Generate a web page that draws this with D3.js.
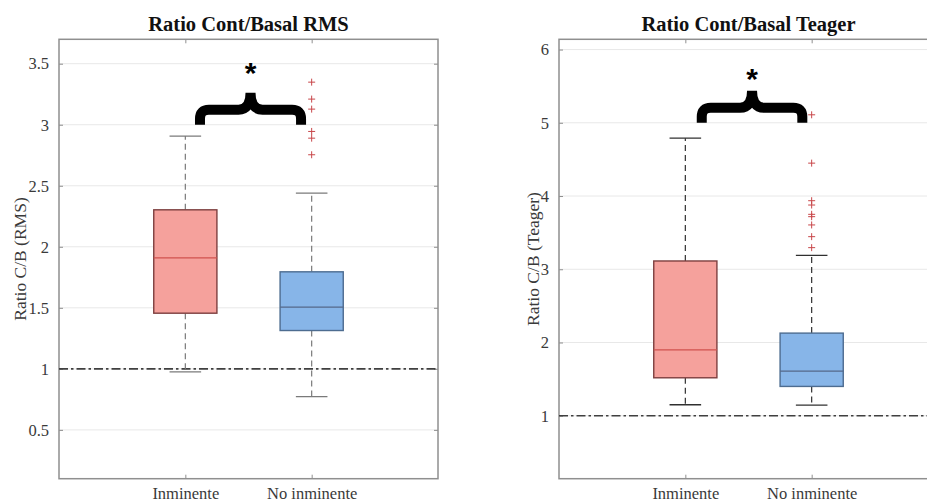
<!DOCTYPE html>
<html><head><meta charset="utf-8">
<script src="https://cdn.jsdelivr.net/npm/d3@7"></script>
<style>
html,body{margin:0;padding:0;background:#fff;}
svg{display:block;}
</style></head>
<body>
<script>
// ---------- DATA ----------
const categories = ["Inminente", "No inminente"];
// [lower whisker, Q1, median, Q3, upper whisker]
const rmsStats = [[0.975, 1.456, 1.91, 2.303, 2.907], [0.773, 1.314, 1.505, 1.795, 2.44]];
const rmsOutliers = [[], [3.349, 3.21, 3.128, 2.945, 2.89, 2.754]];
const rmsTicks = [0.5, 1, 1.5, 2, 2.5, 3, 3.5];
const rmsTickLabels = ["0.5", "1", "1.5", "2", "2.5", "3", "3.5"];
const teagerStats = [[1.15, 1.518, 1.90, 3.113, 4.79], [1.145, 1.40, 1.61, 2.128, 3.19]];
const teagerOutliers = [[], [5.109, 4.449, 3.936, 3.877, 3.75, 3.718, 3.605, 3.445, 3.295]];
const teagerTicks = [1, 2, 3, 4, 5, 6];
const teagerTickLabels = ["1", "2", "3", "4", "5", "6"];
const refValue = 1;
// significance bracket: [x start, x end, base y, star y]
const rmsBracket = [1.116, 1.916, 3.0, 3.443];
const teagerBracket = [1.13, 1.926, 5.0, 5.634];

// ---------- LAYOUT / STYLE ----------
const W = 927, H = 502;
const svg = d3.select("body").append("svg").attr("width", W).attr("height", H);
const boxFill = ["#f5a19c", "#87b5e8"];
const boxEdge = ["#7d3f3f", "#4d6c90"];
const medColor = ["#d0524e", "#55698a"];

const panels = [
  {title: "Ratio Cont/Basal RMS", ylabel: "Ratio C/B (RMS)", stats: rmsStats, outliers: rmsOutliers,
   ticks: rmsTicks, tickLabels: rmsTickLabels, ydom: [0.1, 3.7], xr: [59, 438], bracket: rmsBracket,
   whiskerColor: "#7a7a7a", ylabX: 26},
  {title: "Ratio Cont/Basal Teager", ylabel: "Ratio C/B (Teager)", stats: teagerStats, outliers: teagerOutliers,
   ticks: teagerTicks, tickLabels: teagerTickLabels, ydom: [0.14, 6.14], xr: [559, 938], bracket: teagerBracket,
   whiskerColor: "#303030", ylabX: 539}
];
const yTop = 39.3, yBottom = 478.7;

panels.forEach(p => {
  const x = d3.scaleLinear().domain([0, 3]).range(p.xr);
  const y = d3.scaleLinear().domain(p.ydom).range([yBottom, yTop]);
  const g = svg.append("g");
  const x0 = p.xr[0], x1 = p.xr[1];

  // grid
  g.selectAll(".grid").data(p.ticks).join("line")
    .attr("x1", x0).attr("x2", x1).attr("y1", d => y(d)).attr("y2", d => y(d))
    .attr("stroke", "#e8e8e8").attr("stroke-width", 1);

  // axis frame
  g.append("rect").attr("x", x0).attr("y", yTop).attr("width", x1 - x0).attr("height", yBottom - yTop)
    .attr("fill", "none").attr("stroke", "#8f8f8f").attr("stroke-width", 1.5);

  // y axis (left) with inward ticks
  const yAxis = d3.axisLeft(y).tickValues(p.ticks).tickFormat((d, i) => p.tickLabels[i]).tickSize(-4).tickPadding(10);
  const ya = g.append("g").attr("transform", `translate(${x0},0)`).call(yAxis);
  ya.select(".domain").remove();
  ya.selectAll(".tick line").attr("stroke", "#8f8f8f");
  ya.selectAll(".tick text").attr("font-family", "'Liberation Serif', 'Times New Roman', serif")
    .attr("font-size", 16.5).attr("fill", "#3a3a3a");
  // right side ticks
  const yr = g.append("g").attr("transform", `translate(${x1},0)`).call(d3.axisRight(y).tickValues(p.ticks).tickSize(-4).tickFormat(""));
  yr.select(".domain").remove();
  yr.selectAll(".tick line").attr("stroke", "#8f8f8f");

  // x axis
  const xAxis = d3.axisBottom(x).tickValues([1, 2]).tickFormat((d, i) => categories[i]).tickSize(-4).tickPadding(9);
  const xa = g.append("g").attr("transform", `translate(0,${yBottom})`).call(xAxis);
  xa.select(".domain").remove();
  xa.selectAll(".tick line").attr("stroke", "#8f8f8f");
  xa.selectAll(".tick text").attr("font-family", "'Liberation Serif', 'Times New Roman', serif")
    .attr("font-size", 16.5).attr("fill", "#3a3a3a");
  const xt = g.append("g").attr("transform", `translate(0,${yTop})`).call(d3.axisTop(x).tickValues([1, 2]).tickSize(-4).tickFormat(""));
  xt.select(".domain").remove();
  xt.selectAll(".tick line").attr("stroke", "#8f8f8f");

  // reference line
  g.append("line").attr("x1", x0).attr("x2", x1).attr("y1", y(refValue)).attr("y2", y(refValue))
    .attr("stroke", "#404040").attr("stroke-width", 1.6).attr("stroke-dasharray", "9,3,2.5,3");

  // boxes
  p.stats.forEach((s, i) => {
    const c = i + 1;
    const bw = 0.25, cw = 0.125;
    const [lo, q1, med, q3, hi] = s;
    g.append("line").attr("x1", x(c)).attr("x2", x(c)).attr("y1", y(q3)).attr("y2", y(hi))
      .attr("stroke", p.whiskerColor).attr("stroke-width", 1.2).attr("stroke-dasharray", "6,4");
    g.append("line").attr("x1", x(c)).attr("x2", x(c)).attr("y1", y(q1)).attr("y2", y(lo))
      .attr("stroke", p.whiskerColor).attr("stroke-width", 1.2).attr("stroke-dasharray", "6,4");
    g.append("line").attr("x1", x(c - cw)).attr("x2", x(c + cw)).attr("y1", y(hi)).attr("y2", y(hi))
      .attr("stroke", p.whiskerColor).attr("stroke-width", 1.3);
    g.append("line").attr("x1", x(c - cw)).attr("x2", x(c + cw)).attr("y1", y(lo)).attr("y2", y(lo))
      .attr("stroke", p.whiskerColor).attr("stroke-width", 1.3);
    g.append("rect").attr("x", x(c - bw)).attr("y", y(q3)).attr("width", x(c + bw) - x(c - bw)).attr("height", y(q1) - y(q3))
      .attr("fill", boxFill[i]).attr("stroke", boxEdge[i]).attr("stroke-width", 1.4);
    g.append("line").attr("x1", x(c - bw)).attr("x2", x(c + bw)).attr("y1", y(med)).attr("y2", y(med))
      .attr("stroke", medColor[i]).attr("stroke-width", 1.3);
    // outliers
    g.selectAll(null).data(p.outliers[i]).join("path")
      .attr("d", d => `M${x(c) - 3.5},${y(d)}h7M${x(c)},${y(d) - 3.5}v7`)
      .attr("stroke", "#c8474a").attr("stroke-width", 1).attr("fill", "none");
  });

  // title
  g.append("text").attr("x", (x0 + x1) / 2).attr("y", 31).attr("text-anchor", "middle")
    .attr("font-family", "'Liberation Serif', 'Times New Roman', serif").attr("font-weight", "bold")
    .attr("font-size", 20.5).attr("fill", "#111").text(p.title);

  // y label
  g.append("text").attr("transform", `translate(${p.ylabX},${(yTop + yBottom) / 2}) rotate(-90)`)
    .attr("text-anchor", "middle")
    .attr("font-family", "'Liberation Serif', 'Times New Roman', serif")
    .attr("font-size", 17.5).attr("fill", "#3a3a3a").text(p.ylabel);

  // significance bracket
  const [bx0, bx1, by, sy] = p.bracket;
  const L = x(bx0), R = x(bx1), C = (L + R) / 2, B = y(by);
  const M = B - 15, P = B - 32, r = 9, r2 = 12;
  const path = `M${L},${B} L${L},${M + r} Q${L},${M} ${L + r},${M} L${C - r2},${M} Q${C},${M} ${C},${P}` +
               ` Q${C},${M} ${C + r2},${M} L${R - r},${M} Q${R},${M} ${R},${M + r} L${R},${B}`;
  g.append("path").attr("d", path).attr("fill", "none").attr("stroke", "#000")
    .attr("stroke-width", 10).attr("stroke-linejoin", "miter").attr("stroke-miterlimit", 10);
  g.append("text").attr("x", C).attr("y", y(sy)).attr("dy", "0.42em").attr("text-anchor", "middle")
    .attr("font-family", "'Liberation Sans', Arial, sans-serif").attr("font-weight", "bold")
    .attr("font-size", 30).attr("fill", "#000").text("*");
});
</script>
</body></html>
